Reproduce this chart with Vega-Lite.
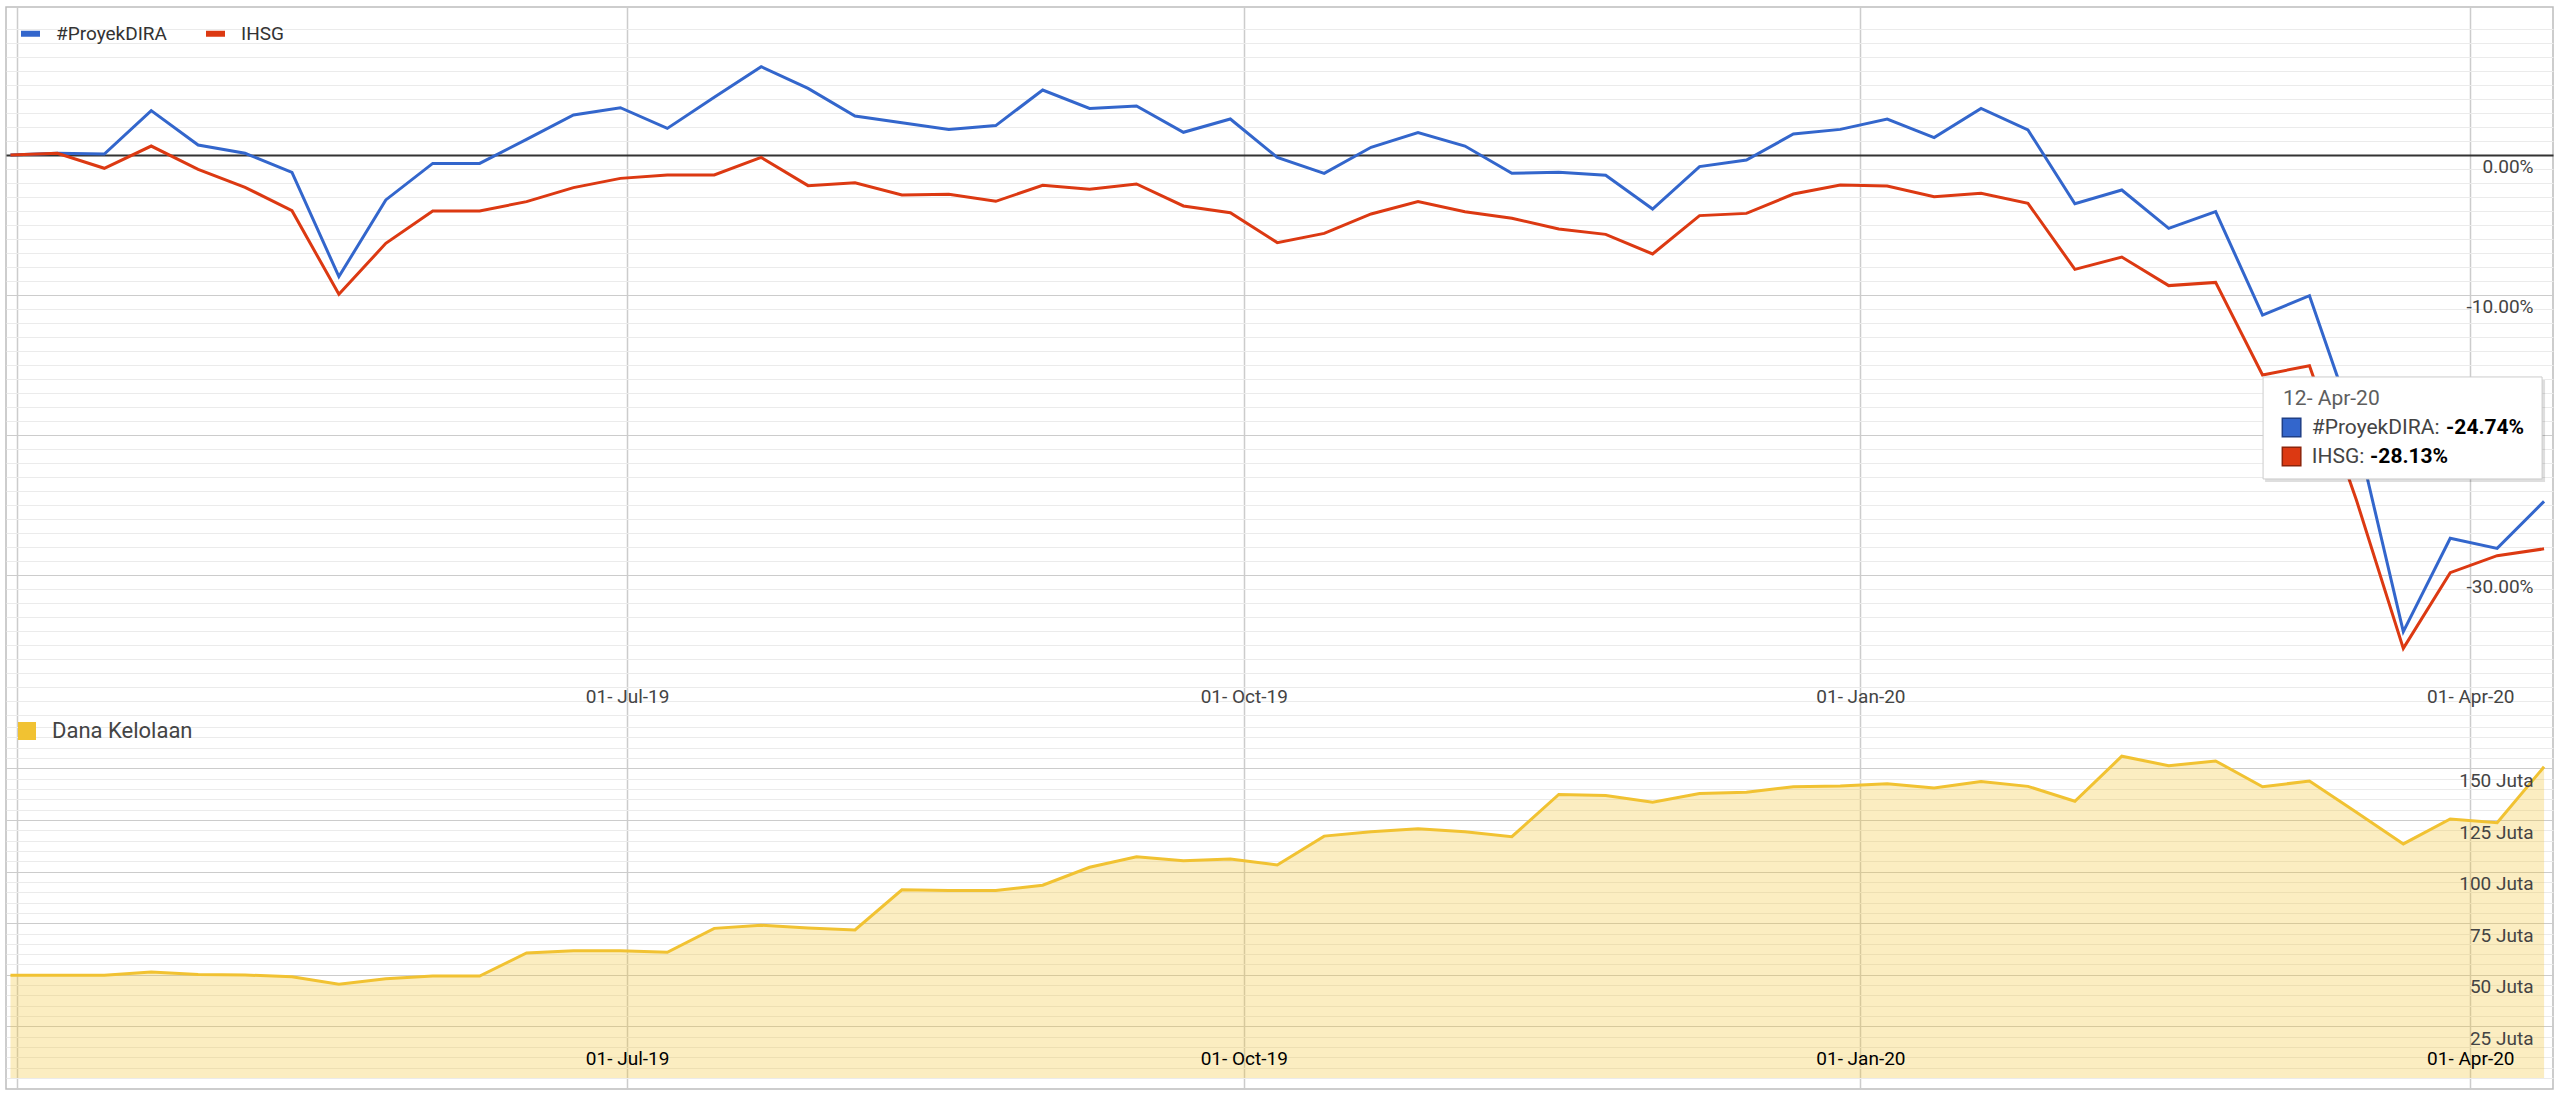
{
  "$schema": "https://vega.github.io/schema/vega-lite/v6.json",
  "width": 2547,
  "height": 1082,
  "padding": {"left": 6, "top": 7, "right": 7, "bottom": 6},
  "autosize": {"type": "none"},
  "background": "#ffffff",
  "config": {
    "font": "Roboto",
    "view": {"stroke": "#bdbdbd", "strokeWidth": 1.5},
    "axis": {"domain": false, "ticks": false, "tickSize": 0, "labelFont": "Roboto", "labelFontSize": 19, "labelOverlap": false, "labelFlush": false, "labelBound": false},
    "legend": {"padding": 0, "labelFont": "Roboto"}
  },
  "datasets": {
    "perf": [
      {"date": "2019-03-31", "#ProyekDIRA": 0, "IHSG": 0, "Dana Kelolaan": 49.8},
      {"date": "2019-04-07", "#ProyekDIRA": 0.12, "IHSG": 0.12, "Dana Kelolaan": 49.8},
      {"date": "2019-04-14", "#ProyekDIRA": 0.07, "IHSG": -0.95, "Dana Kelolaan": 49.8},
      {"date": "2019-04-21", "#ProyekDIRA": 3.17, "IHSG": 0.64, "Dana Kelolaan": 51.4},
      {"date": "2019-04-28", "#ProyekDIRA": 0.71, "IHSG": -1.02, "Dana Kelolaan": 50.2},
      {"date": "2019-05-05", "#ProyekDIRA": 0.12, "IHSG": -2.31, "Dana Kelolaan": 49.9},
      {"date": "2019-05-12", "#ProyekDIRA": -1.24, "IHSG": -3.98, "Dana Kelolaan": 49.1},
      {"date": "2019-05-19", "#ProyekDIRA": -8.69, "IHSG": -9.95, "Dana Kelolaan": 45.4},
      {"date": "2019-05-26", "#ProyekDIRA": -3.21, "IHSG": -6.31, "Dana Kelolaan": 48.1},
      {"date": "2019-06-02", "#ProyekDIRA": -0.6, "IHSG": -4.0, "Dana Kelolaan": 49.4},
      {"date": "2019-06-09", "#ProyekDIRA": -0.6, "IHSG": -4.0, "Dana Kelolaan": 49.4},
      {"date": "2019-06-16", "#ProyekDIRA": 1.12, "IHSG": -3.33, "Dana Kelolaan": 60.6},
      {"date": "2019-06-23", "#ProyekDIRA": 2.86, "IHSG": -2.33, "Dana Kelolaan": 61.7},
      {"date": "2019-06-30", "#ProyekDIRA": 3.38, "IHSG": -1.67, "Dana Kelolaan": 61.7},
      {"date": "2019-07-07", "#ProyekDIRA": 1.9, "IHSG": -1.43, "Dana Kelolaan": 60.9},
      {"date": "2019-07-14", "#ProyekDIRA": 4.12, "IHSG": -1.43, "Dana Kelolaan": 72.5},
      {"date": "2019-07-21", "#ProyekDIRA": 6.31, "IHSG": -0.17, "Dana Kelolaan": 74.0},
      {"date": "2019-07-28", "#ProyekDIRA": 4.76, "IHSG": -2.19, "Dana Kelolaan": 72.7},
      {"date": "2019-08-04", "#ProyekDIRA": 2.79, "IHSG": -1.98, "Dana Kelolaan": 71.7},
      {"date": "2019-08-11", "#ProyekDIRA": 2.31, "IHSG": -2.86, "Dana Kelolaan": 91.2},
      {"date": "2019-08-18", "#ProyekDIRA": 1.83, "IHSG": -2.81, "Dana Kelolaan": 90.8},
      {"date": "2019-08-25", "#ProyekDIRA": 2.1, "IHSG": -3.31, "Dana Kelolaan": 90.9},
      {"date": "2019-09-01", "#ProyekDIRA": 4.64, "IHSG": -2.17, "Dana Kelolaan": 93.4},
      {"date": "2019-09-08", "#ProyekDIRA": 3.33, "IHSG": -2.45, "Dana Kelolaan": 102.1},
      {"date": "2019-09-15", "#ProyekDIRA": 3.5, "IHSG": -2.07, "Dana Kelolaan": 107.2},
      {"date": "2019-09-22", "#ProyekDIRA": 1.62, "IHSG": -3.64, "Dana Kelolaan": 105.3},
      {"date": "2019-09-29", "#ProyekDIRA": 2.57, "IHSG": -4.12, "Dana Kelolaan": 106.1},
      {"date": "2019-10-06", "#ProyekDIRA": -0.17, "IHSG": -6.26, "Dana Kelolaan": 103.2},
      {"date": "2019-10-13", "#ProyekDIRA": -1.31, "IHSG": -5.6, "Dana Kelolaan": 117.2},
      {"date": "2019-10-20", "#ProyekDIRA": 0.55, "IHSG": -4.21, "Dana Kelolaan": 119.3},
      {"date": "2019-10-27", "#ProyekDIRA": 1.6, "IHSG": -3.33, "Dana Kelolaan": 120.8},
      {"date": "2019-11-03", "#ProyekDIRA": 0.64, "IHSG": -4.05, "Dana Kelolaan": 119.3},
      {"date": "2019-11-10", "#ProyekDIRA": -1.31, "IHSG": -4.52, "Dana Kelolaan": 116.9},
      {"date": "2019-11-17", "#ProyekDIRA": -1.24, "IHSG": -5.29, "Dana Kelolaan": 137.4},
      {"date": "2019-11-24", "#ProyekDIRA": -1.45, "IHSG": -5.67, "Dana Kelolaan": 136.9},
      {"date": "2019-12-01", "#ProyekDIRA": -3.86, "IHSG": -7.07, "Dana Kelolaan": 133.6},
      {"date": "2019-12-08", "#ProyekDIRA": -0.83, "IHSG": -4.33, "Dana Kelolaan": 137.8},
      {"date": "2019-12-15", "#ProyekDIRA": -0.36, "IHSG": -4.17, "Dana Kelolaan": 138.4},
      {"date": "2019-12-22", "#ProyekDIRA": 1.5, "IHSG": -2.79, "Dana Kelolaan": 141.1},
      {"date": "2019-12-29", "#ProyekDIRA": 1.83, "IHSG": -2.14, "Dana Kelolaan": 141.5},
      {"date": "2020-01-05", "#ProyekDIRA": 2.57, "IHSG": -2.21, "Dana Kelolaan": 142.6},
      {"date": "2020-01-12", "#ProyekDIRA": 1.24, "IHSG": -2.98, "Dana Kelolaan": 140.5},
      {"date": "2020-01-19", "#ProyekDIRA": 3.33, "IHSG": -2.74, "Dana Kelolaan": 143.6},
      {"date": "2020-01-26", "#ProyekDIRA": 1.79, "IHSG": -3.45, "Dana Kelolaan": 141.3},
      {"date": "2020-02-02", "#ProyekDIRA": -3.48, "IHSG": -8.17, "Dana Kelolaan": 134.1},
      {"date": "2020-02-09", "#ProyekDIRA": -2.5, "IHSG": -7.29, "Dana Kelolaan": 155.9},
      {"date": "2020-02-16", "#ProyekDIRA": -5.24, "IHSG": -9.33, "Dana Kelolaan": 151.3},
      {"date": "2020-02-23", "#ProyekDIRA": -4.05, "IHSG": -9.1, "Dana Kelolaan": 153.6},
      {"date": "2020-03-01", "#ProyekDIRA": -11.43, "IHSG": -15.71, "Dana Kelolaan": 141.1},
      {"date": "2020-03-08", "#ProyekDIRA": -10.05, "IHSG": -15.05, "Dana Kelolaan": 143.9},
      {"date": "2020-03-15", "#ProyekDIRA": -19.76, "IHSG": -24.64, "Dana Kelolaan": 128.7},
      {"date": "2020-03-22", "#ProyekDIRA": -34.05, "IHSG": -35.24, "Dana Kelolaan": 113.4},
      {"date": "2020-03-29", "#ProyekDIRA": -27.38, "IHSG": -29.83, "Dana Kelolaan": 125.5},
      {"date": "2020-04-05", "#ProyekDIRA": -28.1, "IHSG": -28.62, "Dana Kelolaan": 123.7},
      {"date": "2020-04-12", "#ProyekDIRA": -24.74, "IHSG": -28.13, "Dana Kelolaan": 150.8}
    ],
    "tip": [
      {"date": "2020-04-12", "dira": -24.74, "ihsg": -28.13, "label": "12- Apr-20", "diraText": "-24.74%", "ihsgText": "-28.13%"}
    ]
  },
  "layer": [
    {
      "data": {"name": "perf"},
      "transform": [{"fold": ["#ProyekDIRA", "IHSG"], "as": ["series", "value"]}],
      "mark": {"type": "line", "strokeWidth": 3},
      "encoding": {
        "x": {
          "field": "date", "type": "temporal", "title": null,
          "scale": {"type": "utc", "domain": [{"year": 2019, "month": 3, "date": 30, "hours": 8, "utc": true}, {"year": 2020, "month": 4, "date": 13, "hours": 8, "utc": true}]},
          "axis": {
            "orient": "bottom", "grid": false, "zindex": 0, "offset": -392.5,
            "values": [{"year": 2019, "month": 7, "date": 1, "utc": true}, {"year": 2019, "month": 10, "date": 1, "utc": true}, {"year": 2020, "month": 1, "date": 1, "utc": true}, {"year": 2020, "month": 4, "date": 1, "utc": true}],
            "labelExpr": "utcFormat(datum.value, '%d- %b-%y')",
            "labelPadding": 0, "labelBaseline": "middle", "labelColor": "#444444"
          }
        },
        "y": {
          "field": "value", "type": "quantitative", "title": null,
          "scale": {"domain": [-66.714, 10.571], "nice": false, "zero": false},
          "axis": {
            "orient": "right", "grid": true, "zindex": 0,
            "values": [-40, -39, -38, -37, -36, -35, -34, -33, -32, -31, -30, -29, -28, -27, -26, -25, -24, -23, -22, -21, -20, -19, -18, -17, -16, -15, -14, -13, -12, -11, -10, -9, -8, -7, -6, -5, -4, -3, -2, -1, 0, 1, 2, 3, 4, 5, 6, 7, 8, 9],
            "gridColor": {"condition": [{"test": "datum.value === 0", "value": "#333333"}, {"test": "datum.value % 10 === 0 && datum.value > -40", "value": "#cccccc"}], "value": "#ebebeb"},
            "gridWidth": {"condition": {"test": "datum.value === 0", "value": 2}, "value": 1},
            "labelExpr": "datum.value % 10 === 0 && datum.value <= 0 && datum.value > -40 ? (datum.value < 0 ? '-' + (-datum.value) : '0') + '.00%' : ''",
            "labelAlign": "right", "labelBaseline": "middle", "labelPadding": -20, "labelOffset": 12, "labelColor": "#444444"
          }
        },
        "color": {
          "field": "series", "type": "nominal",
          "scale": {"domain": ["#ProyekDIRA", "IHSG"], "range": ["#3366cc", "#dc3912"]},
          "legend": {
            "orient": "none", "legendX": 12, "legendY": 14, "direction": "horizontal", "title": null,
            "symbolType": "stroke", "symbolSize": 361, "symbolStrokeWidth": 6,
            "labelFontSize": 19, "labelColor": "#333333", "labelOffset": 13, "columnPadding": 27
          }
        }
      }
    },
    {
      "data": {"name": "perf"},
      "transform": [{"fold": ["Dana Kelolaan"], "as": ["series", "aum"]}],
      "layer": [
        {
          "mark": {"type": "area", "opacity": 0.3},
          "encoding": {
            "x": {
              "field": "date", "type": "temporal", "title": null,
              "scale": {"type": "utc", "domain": [{"year": 2019, "month": 3, "date": 30, "hours": 8, "utc": true}, {"year": 2020, "month": 4, "date": 13, "hours": 8, "utc": true}]},
              "axis": {
                "orient": "bottom", "grid": true, "labels": false, "zindex": 0, "gridColor": "#cccccc", "gridWidth": 1.5,
                "values": [{"year": 2019, "month": 4, "date": 1, "utc": true}, {"year": 2019, "month": 7, "date": 1, "utc": true}, {"year": 2019, "month": 10, "date": 1, "utc": true}, {"year": 2020, "month": 1, "date": 1, "utc": true}, {"year": 2020, "month": 4, "date": 1, "utc": true}]
              }
            },
            "y": {
              "field": "aum", "type": "quantitative", "title": null,
              "scale": {"domain": [-5.33, 518.9], "nice": false, "zero": false},
              "axis": {
                "orient": "right", "grid": true, "labels": false, "zindex": 0,
                "values": [0, 5, 10, 15, 20, 25, 30, 35, 40, 45, 50, 55, 60, 65, 70, 75, 80, 85, 90, 95, 100, 105, 110, 115, 120, 125, 130, 135, 140, 145, 150, 155, 160, 165, 170],
                "gridColor": {"condition": {"test": "datum.value % 25 === 0 && datum.value > 0", "value": "#cccccc"}, "value": "#ebebeb"}
              }
            },
            "y2": {"datum": 0},
            "color": {
              "field": "series", "type": "nominal",
              "scale": {"domain": ["Dana Kelolaan"], "range": ["#f1c232"]},
              "legend": {
                "orient": "none", "legendX": 10, "legendY": 713, "title": null,
                "symbolType": "square", "symbolSize": 324, "symbolOpacity": 1, "symbolStrokeWidth": 0,
                "labelFontSize": 22, "labelColor": "#444444", "labelOffset": 14
              }
            }
          }
        },
        {
          "mark": {"type": "line", "strokeWidth": 3, "color": "#f1c232"},
          "encoding": {
            "x": {
              "field": "date", "type": "temporal", "title": null,
              "scale": {"type": "utc", "domain": [{"year": 2019, "month": 3, "date": 30, "hours": 8, "utc": true}, {"year": 2020, "month": 4, "date": 13, "hours": 8, "utc": true}]},
              "axis": {
                "orient": "bottom", "grid": false, "zindex": 1,
                "values": [{"year": 2019, "month": 7, "date": 1, "utc": true}, {"year": 2019, "month": 10, "date": 1, "utc": true}, {"year": 2020, "month": 1, "date": 1, "utc": true}, {"year": 2020, "month": 4, "date": 1, "utc": true}],
                "labelExpr": "utcFormat(datum.value, '%d- %b-%y')",
                "labelPadding": -31, "labelBaseline": "middle", "labelColor": "#000000"
              }
            },
            "y": {
              "field": "aum", "type": "quantitative", "title": null,
              "scale": {"domain": [-5.33, 518.9], "nice": false, "zero": false},
              "axis": {
                "orient": "right", "grid": false, "zindex": 1,
                "values": [25, 50, 75, 100, 125, 150],
                "labelExpr": "datum.value + ' Juta'",
                "labelAlign": "right", "labelBaseline": "middle", "labelPadding": -20, "labelOffset": 12, "labelColor": "#444444"
              }
            }
          }
        }
      ],
      "resolve": {"axis": {"x": "independent", "y": "independent"}}
    },
    {
      "data": {"name": "tip"},
      "encoding": {
        "x": {"field": "date", "type": "temporal", "title": null, "axis": null, "scale": {"type": "utc", "domain": [{"year": 2019, "month": 3, "date": 30, "hours": 8, "utc": true}, {"year": 2020, "month": 4, "date": 13, "hours": 8, "utc": true}]}},
        "y": {"field": "dira", "type": "quantitative", "title": null, "axis": null, "scale": {"domain": [-66.714, 10.571], "nice": false, "zero": false}}
      },
      "layer": [
        {
          "mark": {"type": "rect", "fill": "#000000", "fillOpacity": 0.13, "xOffset": -279, "x2Offset": 1, "yOffset": -121.4, "y2Offset": -19.4},
          "encoding": {"x2": {"field": "date"}, "y2": {"field": "dira"}}
        },
        {
          "mark": {"type": "rect", "fill": "#ffffff", "stroke": "#cccccc", "strokeWidth": 1, "xOffset": -281, "x2Offset": -2, "yOffset": -124.4, "y2Offset": -22.4},
          "encoding": {"x2": {"field": "date"}, "y2": {"field": "dira"}}
        },
        {
          "mark": {"type": "text", "align": "left", "baseline": "middle", "dx": -261, "dy": -102, "fontSize": 21, "font": "Roboto", "color": "#5e5e5e"},
          "encoding": {"text": {"field": "label"}}
        },
        {
          "mark": {"type": "square", "size": 342, "fill": "#3366cc", "stroke": "#1f3f86", "strokeWidth": 1.5, "opacity": 1, "xOffset": -252.5, "yOffset": -73.9},
          "encoding": {}
        },
        {
          "mark": {"type": "square", "size": 342, "fill": "#dc3912", "stroke": "#8c240b", "strokeWidth": 1.5, "opacity": 1, "xOffset": -252.5, "yOffset": -44.9},
          "encoding": {}
        },
        {
          "mark": {"type": "text", "align": "left", "baseline": "middle", "dx": -232.3, "dy": -73.1, "fontSize": 21, "font": "Roboto", "color": "#444444"},
          "encoding": {"text": {"value": "#ProyekDIRA:"}}
        },
        {
          "mark": {"type": "text", "align": "left", "baseline": "middle", "dx": -98, "dy": -73.1, "fontSize": 21, "font": "Roboto", "fontWeight": "bold", "color": "#000000"},
          "encoding": {"text": {"field": "diraText"}}
        },
        {
          "mark": {"type": "text", "align": "left", "baseline": "middle", "dx": -232.3, "dy": -44.4, "fontSize": 21, "font": "Roboto", "color": "#444444"},
          "encoding": {"text": {"value": "IHSG:"}}
        },
        {
          "mark": {"type": "text", "align": "left", "baseline": "middle", "dx": -174, "dy": -44.4, "fontSize": 21, "font": "Roboto", "fontWeight": "bold", "color": "#000000"},
          "encoding": {"text": {"field": "ihsgText"}}
        }
      ]
    }
  ],
  "resolve": {
    "scale": {"y": "independent", "color": "independent"},
    "axis": {"x": "independent", "y": "independent"},
    "legend": {"color": "independent"}
  }
}
